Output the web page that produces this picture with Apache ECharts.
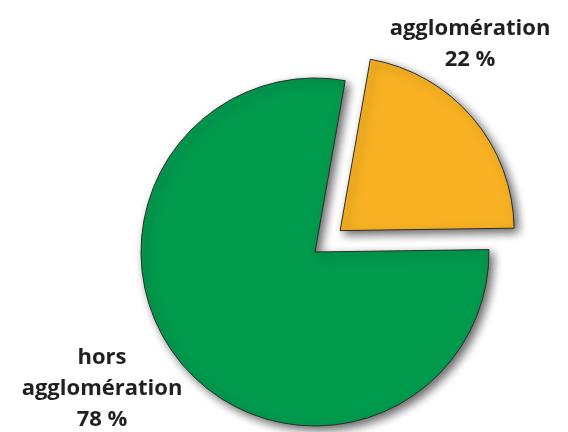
<!DOCTYPE html>
<html>
<head>
<meta charset="utf-8">
<script src="https://cdn.jsdelivr.net/npm/echarts@6/dist/echarts.min.js"></script>
<style>
  html, body { margin: 0; padding: 0; background: #fff; }
  #chart { width: 568px; height: 432px; }
</style>
</head>
<body>
<div id="chart"></div>
<script>
// données
const names = ["agglomération", "hors\nagglomération"];
const values = [22, 78];
const colors = ["#f8b122", "#009a4d"];

// positions des étiquettes
const labelPos = [
  { x: 470, y: 13 },
  { x: 102, y: 342 },
];

const chart = echarts.init(document.getElementById("chart"));

const total = values.reduce((a, b) => a + b, 0);

const pieData = names.map((n, i) => ({
  name: n,
  value: values[i],
  selected: i === 0,
  itemStyle: { color: colors[i] },
}));

// étiquettes en texte
const labels = names.map((n, i) => ({
  type: "text",
  x: labelPos[i].x,
  y: labelPos[i].y,
  style: {
    text: n + "\n" + Math.round((values[i] / total) * 100) + " %",
    fontFamily: "Open Sans",
    fontWeight: "bold",
    fontSize: 22,
    lineHeight: 31,
    fill: "#231f20",
    align: "center",
    verticalAlign: "top",
  },
}));

chart.setOption({
  animation: false,
  graphic: { elements: labels },
  series: [
    {
      type: "pie",
      center: [315, 252],
      radius: 174,
      startAngle: 80,
      clockwise: true,
      selectedMode: "single",
      selectedOffset: 33,
      itemStyle: {
        borderColor: "#2b2b2b",
        borderWidth: 1,
        shadowBlur: 10,
        shadowOffsetX: 4,
        shadowOffsetY: 4,
        shadowColor: "rgba(0,0,0,0.6)",
      },
      label: { show: false },
      labelLine: { show: false },
      emphasis: { disabled: true },
      data: pieData,
    },
  ],
});
</script>
</body>
</html>
